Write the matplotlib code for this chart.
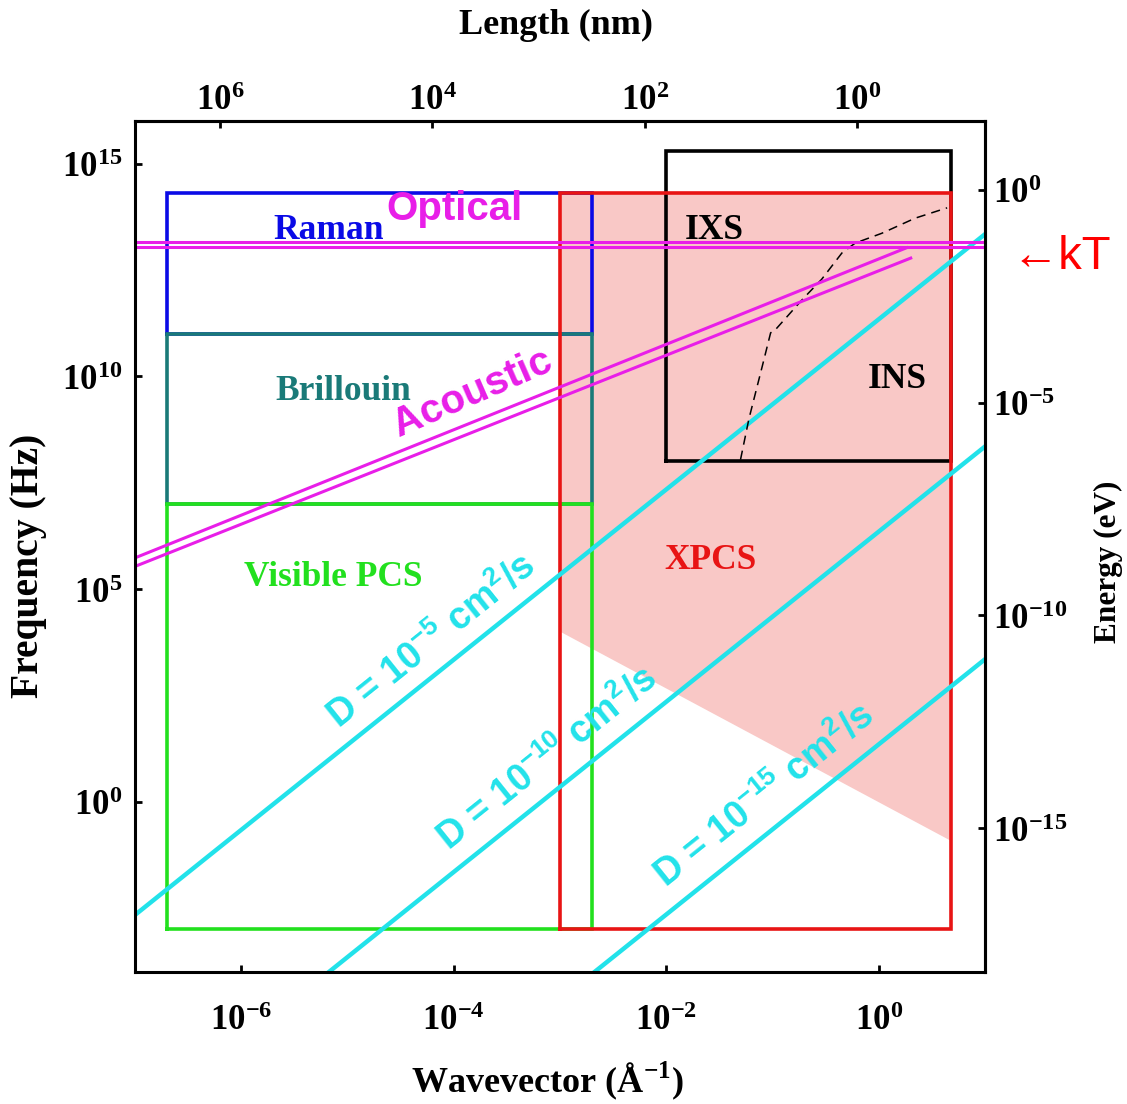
import numpy as np
import matplotlib
matplotlib.use('Agg')
import matplotlib.pyplot as plt
from matplotlib.ticker import FixedLocator, NullLocator, FuncFormatter

plt.rcParams['mathtext.fontset'] = 'custom'
plt.rcParams['mathtext.rm'] = 'Liberation Serif:bold'
plt.rcParams['mathtext.bf'] = 'Liberation Serif:bold'
plt.rcParams['mathtext.sf'] = 'Liberation Sans:bold'

# --- data ---
# technique boxes (wavevector in 1/A, frequency in Hz)
box_names = ['IXS/INS', 'Raman', 'Brillouin', 'Visible PCS', 'XPCS']
box_q_lo = [1e-2, 2e-7, 2e-7, 2e-7, 1e-3]
box_q_hi = [4.8, 2e-3, 2e-3, 2e-3, 4.8]
box_f_lo = [1e8, 1e11, 1e7, 1e-3, 1e-3]
box_f_hi = [2e15, 2e14, 1e11, 1e7, 2e14]
box_colors = ['black', '#0a0ae6', '#1a7a78', '#22e01e', '#e81414']

# shaded part of the XPCS box
xpcs_fill_q = [1e-3, 4.8, 4.8, 1e-3]
xpcs_fill_f = [2e14, 2e14, 0.12, 1e4]

# optical phonon lines (flat)
optical_q = [1e-7, 1e1]
optical_f = [1.46e13, 1.12e13]

# acoustic phonon lines
acoustic_q = [[1e-7, 1.83], [1e-7, 2.0]]
acoustic_f = [[5.4e5, 1.05e13], [3.4e5, 6.0e12]]

# diffusion lines, D = 1e-5, 1e-10, 1e-15 cm^2/s
diff_exp = [-5, -10, -15]
diff_q = [1e-7, 1e1]
diff_f = [[10**-2.66, 10**13.34], [10**-7.65, 10**8.35], [10**-12.65, 10**3.35]]
diff_label_q = [6.2e-5, 7.6e-4, 0.083]
diff_label_f = [6.0e3, 10.5, 1.4]

# dispersion curve (dashed)
disp_q = [0.050, 0.060, 0.080, 0.096, 0.107, 0.19, 0.29, 0.45, 0.60, 1.07, 2.2, 4.4]
disp_f = [1.1e8, 1.0e9, 1.7e10, 1.05e11, 1.26e11, 6.3e11, 1.9e12, 7.9e12,
          1.35e13, 2.3e13, 5.2e13, 9.1e13]

kT_f = 6.2e12
h_eV = 4.1357e-15

magenta = '#e81ee8'
cyan = '#22e2ea'

fig = plt.figure(figsize=(11.27, 11.04), dpi=100)
ax = fig.add_axes([0.1198, 0.1196, 0.7542, 0.7708])
ax.set_xscale('log')
ax.set_yscale('log')
ax.set_xlim(1e-7, 1e1)
ax.set_ylim(1e-4, 1e16)

ax.fill(xpcs_fill_q, xpcs_fill_f, color='#f9c8c6', lw=0, zorder=1)

for i in range(len(box_names)):
    x0, x1 = box_q_lo[i], box_q_hi[i]
    y0, y1 = box_f_lo[i], box_f_hi[i]
    ax.plot([x0, x1, x1, x0, x0], [y0, y0, y1, y1, y0], color=box_colors[i],
            lw=2.6, solid_joinstyle='miter', zorder=2)

for f in optical_f:
    ax.plot(optical_q, [f, f], color=magenta, lw=2.2, zorder=4)
for q, f in zip(acoustic_q, acoustic_f):
    ax.plot(q, f, color=magenta, lw=2.2, zorder=4)

for f in diff_f:
    ax.plot(diff_q, f, color=cyan, lw=3.2, zorder=3)

ax.plot(disp_q, disp_f, color='black', lw=1.1, ls=(0, (6, 4)), zorder=3)

# labels
serif = dict(family='Liberation Serif', weight='bold', fontsize=25.5, ha='center', va='center')
sans = dict(family='Liberation Sans', weight='bold', fontsize=29, ha='center', va='center')
ax.text(6.7e-6, 2.7e13, 'Raman', color=box_colors[1], zorder=3, **serif)
ax.text(1.02e-4, 8.5e13, 'Optical', color=magenta, zorder=5, **sans)
ax.text(9.1e-6, 4.4e9, 'Brillouin', color=box_colors[2], zorder=3, **serif)
ax.text(1.5e-4, 4.0e9, 'Acoustic', color=magenta, rotation=23.5, zorder=5, **sans)
ax.text(7.4e-6, 1.9e5, 'Visible PCS', color=box_colors[3], zorder=3, **serif)
ax.text(0.026, 4.6e5, 'XPCS', color=box_colors[4], zorder=3, **serif)
ax.text(0.028, 2.7e13, 'IXS', color='black', zorder=3, **serif)
ax.text(1.48, 8.3e9, 'INS', color='black', zorder=3, **serif)

for e, q, f in zip(diff_exp, diff_label_q, diff_label_f):
    ax.text(q, f, 'D = 10$^{\\mathsf{%d}}$ cm$^{\\mathsf{2}}$/s' % e, color=cyan,
            family='Liberation Sans', weight='bold', fontsize=27,
            rotation=38.7, ha='center', va='center', zorder=5)

ax.text(10**1.25, kT_f, '\u2190kT', color='red', family=['Liberation Sans', 'DejaVu Sans'],
        fontsize=34, ha='left', va='center', clip_on=False)

# axes styling
def pow_fmt(v, pos):
    return r'$\mathbf{10^{%d}}$' % int(round(np.log10(v)))

for s in ax.spines.values():
    s.set_linewidth(2.2)
    s.set_zorder(10)

ax.xaxis.set_major_locator(FixedLocator([1e-6, 1e-4, 1e-2, 1e0]))
ax.yaxis.set_major_locator(FixedLocator([1e0, 1e5, 1e10, 1e15]))
ax.xaxis.set_minor_locator(NullLocator())
ax.yaxis.set_minor_locator(NullLocator())
ax.xaxis.set_major_formatter(FuncFormatter(pow_fmt))
ax.yaxis.set_major_formatter(FuncFormatter(pow_fmt))
ax.tick_params(axis='x', direction='in', length=5, width=2, labelsize=25, pad=22)
ax.tick_params(axis='y', direction='in', length=5, width=2, labelsize=25, pad=9)

top = ax.secondary_xaxis('top', functions=(lambda q: 2 * np.pi / (10 * np.clip(q, 1e-30, None)),
                                           lambda L: 2 * np.pi / (10 * np.clip(L, 1e-30, None))))
top.xaxis.set_major_locator(FixedLocator([1e6, 1e4, 1e2, 1e0]))
top.xaxis.set_minor_locator(NullLocator())
top.xaxis.set_major_formatter(FuncFormatter(pow_fmt))
top.tick_params(direction='in', length=5, width=2, labelsize=25, pad=3)

right = ax.secondary_yaxis('right', functions=(lambda f: f * h_eV, lambda E: E / h_eV))
right.yaxis.set_major_locator(FixedLocator([1e0, 1e-5, 1e-10, 1e-15]))
right.yaxis.set_minor_locator(NullLocator())
right.yaxis.set_major_formatter(FuncFormatter(pow_fmt))
right.tick_params(direction='in', length=5, width=2, labelsize=25, pad=6)
for sec in (top, right):
    for s in sec.spines.values():
        s.set_linewidth(2.2)

lab = dict(family='Liberation Serif', weight='bold', ha='center', va='center')
fig.text(547 / 1127, 1 - 1081 / 1104, 'Wavevector (\u00c5$^{\\mathbf{-1}}$)', fontsize=26, **lab)
fig.text(29 / 1127, 1 - 566 / 1104, 'Frequency (Hz)', rotation=90, fontsize=28.5, **lab)
fig.text(1108 / 1127, 1 - 562 / 1104, 'Energy (eV)', rotation=90, fontsize=22.5, **lab)
fig.text(556 / 1127, 1 - 25 / 1104, 'Length (nm)', fontsize=26, **lab)

fig.savefig('out.png', dpi=100)
